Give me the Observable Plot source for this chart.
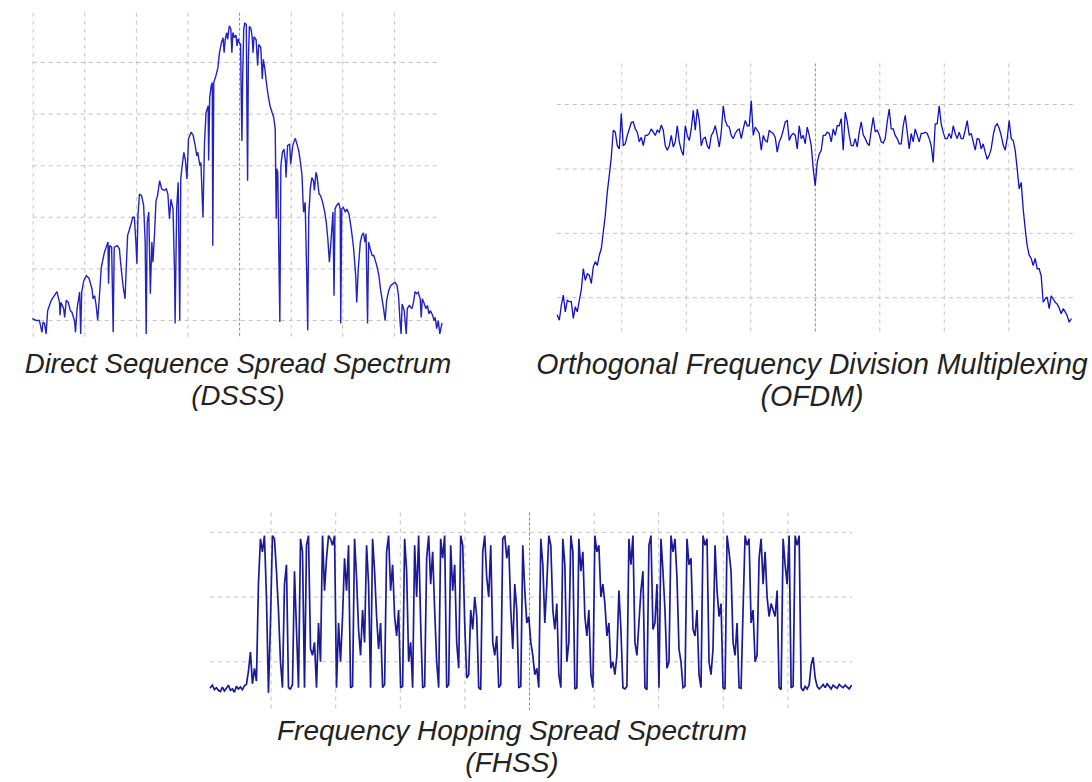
<!DOCTYPE html>
<html><head><meta charset="utf-8">
<script src="https://cdn.jsdelivr.net/npm/d3@7"></script>
<script src="https://cdn.jsdelivr.net/npm/@observablehq/plot@0.6"></script>
<style>
body{margin:0;background:#fff;}
#wrap{position:relative;width:1092px;height:782px;overflow:hidden;background:#fff;}
.panel{position:absolute;}
.cap{position:absolute;width:640px;text-align:center;font-family:"Liberation Sans",Arial,sans-serif;font-style:italic;color:#222;white-space:nowrap;z-index:2;}
</style></head><body><div id="wrap"></div>
<script>
// ---------- DATA ----------
// DSSS: [frequency offset (MHz), level (dB)]
const dsssPoints = [
[-40.1,-59.7],[-39.4,-60.0],[-38.8,-60.0],[-38.3,-62.3],[-38.1,-60.3],[-37.8,-60.6],[-37.5,-62.6],[-37.2,-58.1],[-36.5,-56.1],[-35.9,-55.2],
[-35.4,-54.4],[-34.9,-56.5],[-34.8,-59.0],[-34.6,-56.5],[-34.1,-57.7],[-33.9,-59.4],[-33.6,-56.1],[-33.2,-56.5],[-32.8,-58.1],[-32.5,-58.4],
[-32.0,-60.0],[-31.8,-62.3],[-31.5,-57.7],[-31.0,-54.5],[-30.8,-62.6],[-30.6,-54.5],[-30.2,-52.3],[-29.7,-51.3],[-29.2,-51.8],[-28.6,-53.9],
[-28.4,-55.8],[-28.1,-55.2],[-27.8,-57.1],[-27.5,-60.0],[-27.2,-55.8],[-26.8,-49.7],[-26.2,-46.8],[-25.5,-44.8],[-25.4,-52.9],[-25.2,-45.5],
[-24.8,-45.8],[-24.5,-62.3],[-24.3,-45.8],[-23.7,-45.5],[-23.3,-46.1],[-23.0,-49.4],[-22.6,-53.2],[-22.2,-55.8],[-22.0,-50.6],[-21.7,-43.5],
[-21.2,-41.9],[-20.7,-40.0],[-20.4,-40.0],[-20.1,-44.8],[-19.9,-49.0],[-19.7,-39.7],[-19.4,-35.5],[-19.0,-35.8],[-18.6,-37.7],[-18.3,-44.8],
[-18.1,-62.6],[-17.9,-41.0],[-17.6,-39.0],[-17.3,-54.8],[-17.0,-44.8],[-16.8,-48.7],[-16.5,-43.5],[-16.2,-36.8],[-15.9,-35.8],[-15.5,-32.9],
[-15.1,-34.5],[-14.6,-34.8],[-14.2,-34.5],[-13.9,-35.5],[-13.6,-40.3],[-13.3,-36.5],[-12.9,-38.4],[-12.6,-51.3],[-12.5,-60.6],[-12.2,-38.4],
[-11.9,-33.2],[-11.6,-60.0],[-11.4,-32.6],[-11.2,-30.6],[-10.8,-27.4],[-10.5,-29.0],[-10.2,-32.6],[-9.9,-24.8],[-9.4,-23.5],[-9.0,-24.1],
[-8.6,-26.1],[-8.3,-28.1],[-8.1,-27.4],[-7.7,-30.0],[-7.5,-29.4],[-7.3,-34.8],[-7.1,-40.0],[-6.8,-25.5],[-6.5,-19.7],[-6.1,-18.4],
[-6.0,-29.0],[-5.8,-16.8],[-5.5,-14.5],[-5.3,-13.9],[-5.2,-45.5],[-5.0,-13.9],[-4.6,-12.6],[-4.2,-11.0],[-3.9,-8.1],[-3.5,-6.1],
[-3.2,-5.2],[-3.0,-8.1],[-2.8,-5.6],[-2.5,-4.2],[-2.3,-5.5],[-2.0,-2.9],[-1.7,-3.5],[-1.5,-8.1],[-1.3,-4.2],[-1.0,-5.2],
[-0.7,-4.7],[-0.5,-6.8],[-0.3,-5.4],[-0.1,-6.1],[0.2,-6.5],[0.3,-15.2],[0.45,-25.2],[0.6,-12.6],[0.8,-3.5],[1.0,-2.4],
[1.3,-2.6],[1.4,-17.1],[1.55,-32.9],[1.7,-9.4],[1.9,-3.0],[2.2,-3.4],[2.45,-5.2],[2.6,-8.1],[2.8,-5.0],[3.2,-5.6],
[3.5,-10.6],[3.7,-6.5],[4.1,-7.1],[4.4,-13.2],[4.6,-9.4],[4.9,-11.3],[5.3,-14.8],[5.6,-16.8],[5.9,-18.4],[6.3,-19.7],
[6.6,-20.6],[6.9,-22.9],[7.1,-40.3],[7.2,-30.6],[7.4,-31.3],[7.6,-46.8],[7.8,-60.3],[8.0,-30.0],[8.3,-27.4],[8.6,-26.8],
[8.9,-29.4],[9.0,-32.3],[9.3,-26.1],[9.7,-25.8],[9.9,-29.7],[10.3,-26.1],[10.6,-25.2],[10.8,-24.7],[11.2,-26.1],[11.5,-27.3],
[11.8,-29.4],[12.1,-31.9],[12.3,-37.1],[12.4,-39.0],[12.7,-37.1],[13.0,-50.6],[13.2,-61.9],[13.4,-39.7],[13.7,-34.5],[14.0,-32.3],
[14.3,-32.9],[14.5,-34.8],[14.8,-31.3],[15.0,-32.0],[15.4,-35.5],[15.7,-35.8],[16.1,-37.1],[16.5,-39.0],[16.8,-41.0],[17.1,-44.2],
[17.4,-48.7],[17.7,-44.8],[18.1,-39.0],[18.3,-55.2],[18.5,-38.4],[18.8,-37.7],[19.2,-37.2],[19.5,-38.4],[19.6,-60.6],[19.8,-38.4],
[20.1,-38.1],[20.5,-39.0],[20.8,-38.4],[21.2,-39.4],[21.5,-41.3],[21.8,-43.5],[22.1,-46.1],[22.5,-51.3],[22.7,-56.5],[23.0,-50.0],
[23.4,-44.8],[23.7,-43.5],[24.0,-43.0],[24.3,-44.8],[24.5,-43.2],[24.8,-60.6],[25.0,-44.8],[25.3,-46.1],[25.7,-47.4],[26.0,-47.4],
[26.3,-48.4],[26.6,-49.4],[27.0,-51.3],[27.3,-53.9],[27.6,-55.8],[27.9,-57.7],[28.2,-60.0],[28.5,-56.1],[28.9,-54.2],[29.3,-53.2],
[29.7,-52.9],[30.1,-52.6],[30.5,-53.2],[30.8,-55.2],[31.1,-60.3],[31.3,-62.6],[31.5,-56.8],[31.9,-58.1],[32.3,-62.6],[32.5,-57.7],
[32.9,-57.1],[33.4,-57.7],[33.7,-56.5],[34.0,-54.4],[34.3,-54.8],[34.6,-54.5],[35.0,-55.8],[35.2,-59.4],[35.4,-55.8],[35.7,-56.5],
[36.1,-57.7],[36.4,-57.1],[36.7,-58.7],[37.0,-58.1],[37.4,-59.0],[37.7,-60.0],[37.9,-59.4],[38.2,-61.6],[38.5,-60.0],[38.8,-62.6],
[39.2,-60.6]
];

// OFDM: evenly spaced frequency bins, level (dB)
const ofdmStart = -40, ofdmStep = 0.31;
const ofdmLevels = [
-32.7,-33.5,-31.2,-29.6,-32.2,-30.4,-30.6,-30.6,-33.2,-31.4,
-32.2,-30.4,-28.8,-25.5,-27.3,-26.3,-26.5,-27.8,-25.2,-24.4,
-25.0,-23.4,-22.4,-19.8,-17.2,-13.6,-11.0,-8.2,-4.0,-4.3,
-6.4,-6.9,-1.4,-6.4,-6.1,-4.8,-3.8,-2.8,-2.7,-3.8,
-4.3,-5.8,-5.1,-6.4,-4.8,-4.8,-4.5,-3.8,-4.3,-4.8,
-4.0,-4.3,-3.2,-4.0,-6.4,-7.1,-6.4,-4.8,-6.6,-5.8,
-3.3,-5.8,-7.1,-7.9,-3.3,-4.8,-5.6,-3.8,-0.9,-4.0,
-0.7,-2.5,-6.4,-5.3,-5.1,-6.4,-6.9,-4.8,-4.3,-3.3,
-4.8,-6.6,-4.3,-0.2,-2.5,-3.3,-3.5,-4.8,-5.3,-4.5,
-4.0,-3.8,-5.3,-3.8,-2.5,-3.3,-3.3,0.6,-4.8,-3.5,
-4.0,-4.5,-7.1,-4.8,-5.6,-5.8,-4.0,-4.3,-4.5,-5.1,
-7.4,-5.8,-5.1,-4.0,-2.7,-2.5,-5.6,-4.8,-4.5,-4.8,
-6.9,-3.3,-5.3,-4.8,-6.1,-3.5,-4.8,-6.4,-10.0,-12.6,
-9.0,-7.7,-7.1,-4.8,-4.8,-4.3,-4.5,-5.8,-3.8,-4.8,
-3.3,-3.3,-2.2,-7.1,-1.2,-2.7,-4.8,-6.4,-6.4,-5.3,
-6.6,-4.3,-2.7,-4.7,-5.3,-6.0,-6.4,-4.0,-2.0,-4.2,
-4.0,-4.7,-5.8,-6.0,-5.3,-2.7,-0.7,-3.8,-3.8,-4.8,
-5.3,-6.1,-6.1,-3.3,-1.7,-4.3,-6.9,-4.5,-5.8,-3.8,
-4.8,-5.8,-4.5,-4.5,-4.3,-4.5,-5.3,-6.4,-9.0,-3.0,
-3.0,-0.2,-3.0,-4.3,-5.3,-5.3,-4.5,-5.3,-3.3,-4.5,
-5.3,-4.3,-5.3,-5.3,-4.0,-2.5,-4.8,-4.5,-5.8,-7.1,
-5.3,-5.4,-6.9,-6.1,-7.4,-8.5,-7.9,-6.9,-4.8,-3.4,
-3.0,-3.7,-4.8,-6.3,-7.1,-5.3,-2.5,-5.3,-5.6,-7.1,
-10.0,-13.1,-12.1,-16.2,-19.3,-21.9,-23.4,-23.9,-25.0,-23.9,
-25.5,-25.5,-26.6,-30.7,-30.2,-29.9,-31.7,-29.7,-30.2,-30.7,
-31.0,-31.6,-32.5,-31.7,-32.2,-32.8,-33.8,-33.3
];

// FHSS: evenly spaced frequency bins, level (dB)
const fhssStart = -49.4, fhssStep = 0.31;
const fhssLeftNoise = [-24.0,-23.6,-24.3,-24.0,-24.4,-24.6,-23.9,-24.5,-24.1,-23.6,-24.4,-24.2,-24.7,-23.8,-24.2,-23.9,-24.3,-23.7,-23.5,-21.5,-18.5,-23.4,-21.0,-23.0];
const fhssHopsA = [
-8,-1,-3,-0.5,-10,-24.8,-14,-0.5,-1,-6,
-12,-20,-24,-8,-5,-24,-24.2,-23.5,-6,-15,
-24,-1,-3,-24,-2,-0.5,-18,-19,-17,-24,
-14,-20,-0.5,-9,-4,-0.5,-1,-2,-0.5,-24,
-14,-20,-13,-4,-9,-2,-24,-23.8,-1,-7,
-15,-19,-12,-17,-2,-8,-24,-1,-6,-13,
-18,-14,-24,-23.5,-3,-0.5,-9,-5,-13,-16,
-12,-24,-23.8,-1,-6,-20,-17,-24,-2,-10,
-0.5,-14,-24,-23.8,-4,-0.5,-8,-3,-12,-20,
-24,-1,-4,-0.5,-24,-23.5,-2,-9,-5,-17,
-21,-0.5,-2,-14,-22.5,-22,-12,-15,-10,-13,
-24,-24.3,-3,-0.5,-7,-10,-2,-17,-19,-16,
-24,-23.5,-1,-0.5,-4,-2,-12,-18,-8
];
const fhssHopsB = [
-12,-24,-23.8,-2,-9,-14,-13,-17,-19,-22,
-21,-24,-1,-5,-14,-8,-0.5,-2,-12,-15,
-11,-22,-24,-1,-5,-20,-17,-0.5,-3,-24.2,
-24,-1,-6,-3,-13,-16,-12,-22,-24,-0.5,
-3,-2,-10,-8,-11,-16,-14,-21,-20,-22,
-19,-9,-15,-24,-24.2,-23.8,-1,-5,-0.5,-17,
-19,-14,-9,-6,-24,-24.3,-2,-0.5,-15,-14,
-8,-24,-1,-6,-12,-21,-20,-0.5,-3,-1,
-7,-18,-20,-24,-23.8,-1,-5,-4,-15,-16,
-12,-22,-24,-0.5,-2,-1,-20,-22,-18,-2,
-9,-13,-11,-24,-24.2,-0.5,-3,-6,-17,-19,
-14,-24,-24.1,-12,-0.5,-2,-1,-14,-12,-20,
-19,-4,-1,-8,-3,-10,-13,-11,-12,-13,
-9,-24,-24.3,-1,-5,-8,-0.5,-24,-23.8,-0.5,
-2,-0.5,-24
];
const fhssRightNoise = [-24.5,-23.8,-24.2,-23.6,-20.5,-19.3,-22.5,-23.8,-24.2,-23.9,-23.5,-24.0,-23.4,-23.8,-24.2,-23.6,-23.9,-24.1,-23.5,-23.8,-24.0,-23.6,-23.9,-24.2,-23.7];

const captions = [
  ["Direct Sequence Spread Spectrum", "(DSSS)"],
  ["Orthogonal Frequency Division Multiplexing", "(OFDM)"],
  ["Frequency Hopping Spread Spectrum", "(FHSS)"]
];

// ---------- DRAWING ----------
const wrap = document.getElementById("wrap");
const gridLight = "#c2c2c2", gridDark = "#8a8a8a";

function panel(cfg) {
  const marks = [
    Plot.ruleY(cfg.gridY, {x1: cfg.gx1, x2: cfg.gx2, stroke: gridLight, strokeWidth: 1, strokeDasharray: "4,4"}),
    Plot.ruleX(cfg.gridX, {y1: cfg.gy1, y2: cfg.gy2, stroke: gridLight, strokeWidth: 1, strokeDasharray: "4,4"}),
    Plot.ruleX([0], {y1: cfg.gy1, y2: cfg.gy2, stroke: gridDark, strokeWidth: 1, strokeDasharray: "3,2"}),
    Plot.line(cfg.data, {x: "f", y: "l", stroke: cfg.stroke, strokeWidth: cfg.sw, strokeLinejoin: "miter", strokeMiterlimit: 2})
  ];
  const svg = Plot.plot({
    width: cfg.width, height: cfg.height,
    marginLeft: cfg.mL, marginRight: cfg.mR, marginTop: cfg.mT, marginBottom: cfg.mB,
    x: {domain: cfg.xDomain, axis: null},
    y: {domain: cfg.yDomain, axis: null},
    style: {background: "transparent", overflow: "visible"},
    marks
  });
  const d = document.createElement("div");
  d.className = "panel";
  d.style.left = cfg.left + "px";
  d.style.top = cfg.top + "px";
  d.appendChild(svg);
  wrap.appendChild(d);
}

const dsssData = dsssPoints.map(([f, l]) => ({f, l}));
const ofdmData = ofdmLevels.map((l, i) => ({f: ofdmStart + ofdmStep * i, l}));
const fhssLevels = [...fhssLeftNoise, ...fhssHopsA, ...fhssHopsB, ...fhssRightNoise];
const fhssData = fhssLevels.map((l, i) => ({f: fhssStart + fhssStep * i, l}));

panel({left: 0, top: 0, width: 500, height: 345, mL: 32.7, mR: 54.5, mT: 10.4, mB: 4.4,
  xDomain: [-40, 40], yDomain: [-64, 0],
  gridX: [-40, -30, -20, -10, 10, 20, 30], gy1: -0.45, gy2: -63.5,
  gridY: [-10, -20, -30, -40, -50, -60], gx1: -40, gx2: 39,
  data: dsssData, stroke: "#2222c2", sw: 1.4});

panel({left: 500, top: 0, width: 592, height: 345, mL: 56.8, mR: 19.2, mT: 58.9, mB: 2.7,
  xDomain: [-40, 40], yDomain: [-37, 7],
  gridX: [-30, -20, -10, 10, 20, 30], gy1: 6.3, gy2: -35.5,
  gridY: [0, -10, -20, -30], gx1: -40, gx2: 40,
  data: ofdmData, stroke: "#1010c8", sw: 1.3});

panel({left: 150, top: 484, width: 750, height: 246, mL: 56, mR: 48, mT: 0, mB: 4,
  xDomain: [-50, 50], yDomain: [-30, 7.4],
  gridX: [-40, -30, -20, -10, 10, 20, 30, 40], gy1: 3, gy2: -27.5,
  gridY: [0, -10, -20], gx1: -49.4, gx2: 50,
  data: fhssData, stroke: "#1a1a98", sw: 1.7});

// caption: centre x, centre y of first line, font size
const capPos = [[238, 364, 27.6], [812, 364, 28.6], [512, 731, 28]];
captions.forEach(([a, b], i) => {
  const [cx, cy, fs] = capPos[i];
  const lh = Math.ceil(fs * 1.12 * 10) / 10 + 0.3;
  [a, b].forEach((t, j) => {
    const c = document.createElement("div");
    c.className = "cap";
    c.style.left = (cx - 320) + "px";
    c.style.top = (cy - lh / 2 + j * lh) + "px";
    c.style.fontSize = fs + "px";
    c.style.lineHeight = lh + "px";
    c.style.height = lh + "px";
    c.textContent = t;
    wrap.appendChild(c);
  });
});
</script></body></html>
